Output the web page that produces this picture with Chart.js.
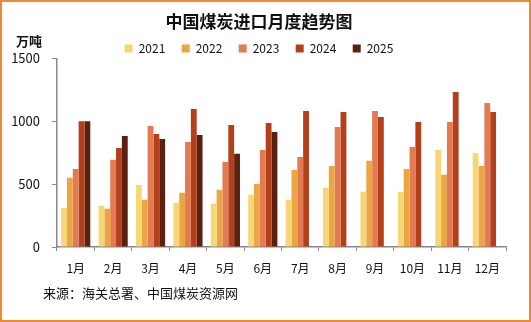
<!DOCTYPE html>
<html>
<head>
<meta charset="utf-8">
<script src="https://cdn.jsdelivr.net/npm/chart.js@4/dist/chart.umd.min.js"></script>
<style>
  body { margin: 0; background: #fff; font-family: "Noto Sans CJK SC", "Noto Sans", sans-serif; }
  #wrap { position: relative; width: 531px; height: 322px; }
  #c { position: absolute; left: 0; top: 0; }
  #frame { position: absolute; left: 0; top: 0; width: 531px; height: 322px; box-sizing: border-box;
           border: 2px solid #ef8a33; pointer-events: none; }
  #unit { position: absolute; left: 16px; top: 31px; font-size: 13px; font-weight: bold; color: #111; }
  #source { position: absolute; left: 43px; top: 283px; font-size: 13px; color: #111; }
</style>
</head>
<body>
<div id="wrap">
  <canvas id="c" width="531" height="322"></canvas>
  <div id="unit">万吨</div>
  <div id="source">来源：海关总署、中国煤炭资源网</div>
  <div id="frame"></div>
</div>
<script>
var months = ["1月","2月","3月","4月","5月","6月","7月","8月","9月","10月","11月","12月"];
var years = ["2021","2022","2023","2024","2025"];
var colors = ["#f6d675","#eba543","#e27a52","#b4401b","#5b2010"];

var v2021 = [312, 328, 494, 352, 344, 415, 375, 471, 439, 439, 772, 748];
var v2022 = [550, 304, 375, 431, 455, 502, 613, 645, 685, 621, 574, 645];
var v2023 = [621, 693, 963, 836, 677, 772, 716, 955, 1081, 796, 994, 1145];
var v2024 = [1000, 788, 899, 1098, 971, 987, 1081, 1073, 1034, 994, 1233, 1073];
var v2025 = [1000, 883, 859, 891, 741, 915, null, null, null, null, null, null];

var series = [v2021, v2022, v2023, v2024, v2025];

var datasets = [];
for (var i = 0; i < years.length; i++) {
  datasets.push({
    label: years[i],
    data: series[i],
    backgroundColor: colors[i],
    categoryPercentage: 0.78,
    barPercentage: 1.0
  });
}

var font = "'Noto Sans CJK SC', 'Noto Sans', sans-serif";

// legend takes less height than its padding gives it
var legendHeight = {
  id: "legendHeight",
  beforeInit: function (chart) {
    var fit = chart.legend.fit;
    chart.legend.fit = function () {
      fit.bind(chart.legend)();
      this.height = 27;
    };
  }
};

new Chart(document.getElementById("c"), {
  type: "bar",
  data: { labels: months, datasets: datasets },
  plugins: [legendHeight],
  options: {
    responsive: false,
    animation: false,
    layout: { padding: { left: 12, right: 25, top: 0, bottom: 0 } },
    plugins: {
      title: {
        display: true,
        text: "中国煤炭进口月度趋势图",
        color: "#111",
        font: { family: font, size: 17, weight: "bold" },
        padding: { top: 11, bottom: 0 }
      },
      legend: {
        position: "top",
        labels: {
          boxWidth: 8,
          boxHeight: 8,
          padding: 11,
          color: "#111",
          font: { family: font, size: 12 },
          generateLabels: function (chart) {
            var items = Chart.defaults.plugins.legend.labels.generateLabels(chart);
            items.forEach(function (it, k) {
              if (k < items.length - 1) it.text = it.text + "  ";
            });
            return items;
          }
        }
      },
      tooltip: { enabled: false }
    },
    scales: {
      x: {
        grid: { drawOnChartArea: false, drawTicks: true, tickLength: 4, color: "#888" },
        border: { color: "#888", width: 1.5 },
        ticks: { color: "#111", padding: 10, font: { family: font, size: 12 } },
        afterFit: function (s) { s.height = 75; }
      },
      y: {
        min: 0,
        max: 1500,
        grid: { drawOnChartArea: false, drawTicks: true, tickLength: 5, color: "#888" },
        border: { color: "#888", width: 1.5 },
        ticks: {
          stepSize: 500, color: "#111", padding: 12, font: { family: font, size: 13 },
          callback: function (v) { return String(v); }
        },
        afterFit: function (s) { s.width = 45; }
      }
    }
  }
});
</script>
</body>
</html>
